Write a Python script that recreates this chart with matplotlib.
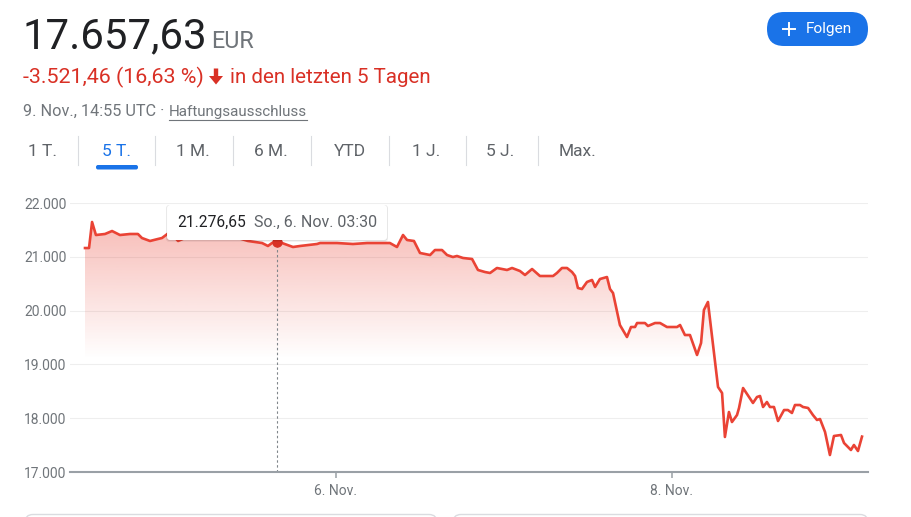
import numpy as np
import matplotlib
matplotlib.use("Agg")
import matplotlib.pyplot as plt
from matplotlib.patches import FancyBboxPatch, Polygon, PathPatch
from matplotlib.transforms import Affine2D, IdentityTransform
from matplotlib.lines import Line2D
from matplotlib.colors import to_rgb

# ---------------- data ----------------
# time in fractional days of November 2022
days = [4.506, 4.530, 4.548, 4.571, 4.625, 4.667, 4.714, 4.774, 4.821, 4.845,
        4.893, 4.940, 4.964, 5.012, 5.060, 5.131, 5.250, 5.369, 5.476, 5.560,
        5.595, 5.619, 5.649, 5.679, 5.744, 5.786, 5.887, 5.905, 6.006, 6.101,
        6.185, 6.321, 6.363, 6.399, 6.423, 6.464, 6.500, 6.560, 6.589, 6.631,
        6.661, 6.696, 6.720, 6.756, 6.810, 6.845, 6.887, 6.917, 6.958, 7.018,
        7.048, 7.095, 7.125, 7.167, 7.214, 7.292, 7.315, 7.345, 7.375, 7.405,
        7.423, 7.440, 7.464, 7.494, 7.524, 7.542, 7.571, 7.613, 7.631, 7.649,
        7.690, 7.732, 7.756, 7.780, 7.792, 7.839, 7.857, 7.899, 7.929, 7.970,
        8.030, 8.048, 8.077, 8.107, 8.149, 8.173, 8.190, 8.214, 8.274, 8.298,
        8.315, 8.339, 8.357, 8.387, 8.399, 8.423, 8.482, 8.506, 8.524, 8.542,
        8.565, 8.583, 8.607, 8.631, 8.667, 8.690, 8.714, 8.732, 8.762, 8.780,
        8.810, 8.839, 8.863, 8.881, 8.911, 8.940, 8.964, 9.006, 9.024, 9.065,
        9.083, 9.107, 9.131]
prices = [21163, 21163, 21647, 21405, 21424, 21479, 21405, 21424, 21424, 21349,
          21294, 21331, 21349, 21461, 21294, 21390, 21410, 21395, 21294, 21256,
          21201, 21256, 21276.65, 21256, 21182, 21201, 21238, 21256, 21256, 21238,
          21256, 21256, 21182, 21405, 21312, 21294, 21071, 21033, 21126, 21126,
          21033, 20996, 21015, 20978, 20959, 20755, 20717, 20699, 20792, 20755,
          20792, 20736, 20662, 20773, 20643, 20643, 20699, 20792, 20792, 20717,
          20643, 20420, 20401, 20532, 20569, 20439, 20587, 20624, 20401, 20327,
          19732, 19509, 19695, 19695, 19769, 19769, 19714, 19769, 19769, 19695,
          19695, 19732, 19546, 19546, 19175, 19398, 20011, 20160, 18580, 18468,
          17651, 18115, 17929, 18059, 18190, 18561, 18283, 18394, 18413, 18208,
          18301, 18208, 18208, 17948, 18152, 18152, 18097, 18245, 18245, 18208,
          18190, 18059, 17967, 17985, 17743, 17316, 17669, 17688, 17539, 17409,
          17502, 17390, 17657.63]

y_ticks = [17000, 18000, 19000, 20000, 21000, 22000]
y_tick_labels = ["17.000", "18.000", "19.000", "20.000", "21.000", "22.000"]
x_ticks = [6, 8]
x_tick_labels = ["6. Nov.", "8. Nov."]

hover_index = 22
hover_value_label = "21.276,65"
hover_date_label = "So., 6. Nov. 03:30"

price_label = "17.657,63"
currency_label = "EUR"
change_label = "-3.521,46 (16,63 %)"
period_label = "in den letzten 5 Tagen"
date_label = "9. Nov., 14:55 UTC ·"
disclaimer_label = "Haftungsausschluss"
tabs = ["1 T.", "5 T.", "1 M.", "6 M.", "YTD", "1 J.", "5 J.", "Max."]
active_tab = 1
button_label = "Folgen"

# ---------------- styling ----------------
RED = "#ea4335"
TXT_RED = "#d93025"
GRAY = "#70757a"
DARK = "#202124"
BLUE = "#1a73e8"

W, H = 911, 517
plt.rcParams["font.family"] = ["Roboto", "DejaVu Sans"]

fig = plt.figure(figsize=(W / 100, H / 100), dpi=100)
fig.patch.set_facecolor("white")
PT = Affine2D().scale(1, -1).translate(0, H)  # pixel coords, origin top-left
renderer = fig.canvas.get_renderer()


def fit(t, target):
    w = t.get_window_extent(renderer).width
    t.set_fontsize(t.get_fontsize() * target / w)


# ---------------- header ----------------
big = fig.text(22, 48, price_label, transform=PT, fontsize=30, color=DARK,
               ha="left", va="baseline")
fit(big, 184)
cur = fig.text(211, 48, currency_label, transform=PT, fontsize=15, color=GRAY,
               ha="left", va="baseline")
fit(cur, 43)

t1 = fig.text(23, 83, change_label, transform=PT, fontsize=14, color=TXT_RED,
              ha="left", va="baseline")
fit(t1, 182)
arrow = Polygon([(213.8, 68.5), (218.2, 68.5), (218.2, 76), (223, 76), (216, 84.5),
                 (209, 76), (213.8, 76)], closed=True, transform=PT,
                facecolor=TXT_RED, edgecolor="none")
fig.add_artist(arrow)
t3 = fig.text(230, 83, period_label, transform=PT, fontsize=14, color=TXT_RED,
              ha="left", va="baseline")
fit(t3, 202)

d1 = fig.text(23, 116, date_label, transform=PT, fontsize=11, color=GRAY,
              ha="left", va="baseline")
fit(d1, 141)
d2 = fig.text(169, 116, disclaimer_label, transform=PT, fontsize=11, color=GRAY,
              ha="left", va="baseline")
fit(d2, 138)
fig.add_artist(Line2D([169, 307], [119.5, 119.5], transform=PT, color=GRAY, lw=0.8))

# Folgen button
btn = FancyBboxPatch((767, 12), 101, 34, boxstyle="round,pad=0,rounding_size=17",
                     transform=PT, facecolor=BLUE, edgecolor="none")
fig.add_artist(btn)
fig.add_artist(Line2D([783, 795], [29, 29], transform=PT, color="white", lw=1.4))
fig.add_artist(Line2D([789, 789], [23, 35], transform=PT, color="white", lw=1.4))
bt = fig.text(806, 29, button_label, transform=PT, fontsize=11, color="white",
              ha="left", va="center")
fit(bt, 46)

# tabs
tab_centers = [43, 117, 193, 271, 350, 426, 500, 578]
for i, (lab, cx) in enumerate(zip(tabs, tab_centers)):
    fig.text(cx, 151, lab, transform=PT, fontsize=12.5,
             color=BLUE if i == active_tab else "#5f6368", ha="center", va="center")
for sx in [78, 155, 233, 311, 389, 466, 538]:
    fig.add_artist(Line2D([sx, sx], [136, 165], transform=PT, color="#dadce0", lw=0.8))
fig.add_artist(FancyBboxPatch((96, 165), 42, 4.5, boxstyle="round,pad=0,rounding_size=2",
                              transform=PT, facecolor=BLUE, edgecolor="none"))

# bottom cards (edges visible)
for x0, w in [(25, 412), (453, 415)]:
    fig.add_artist(FancyBboxPatch((x0, 514.5), w, 60, boxstyle="round,pad=0,rounding_size=8",
                                  transform=PT, facecolor="white", edgecolor="#dadce0", lw=1))

# ---------------- chart ----------------
ax = fig.add_axes([70 / W, 1 - 472 / H, (868 - 70) / W, (472 - 203) / H])
xmin, xmax = 4.4167, 9.1667
ymin, ymax = 17000, 22000

poly = ax.fill_between(days, prices, ymin, facecolor="none", edgecolor="none")
clip = PathPatch(poly.get_paths()[0], transform=ax.transData, facecolor="none",
                 edgecolor="none")
ax.add_patch(clip)
gy = np.linspace(ymin, ymax, 400)
alpha = np.clip((gy - 19100) / (21400 - 19100), 0, 1) * 0.32
img = np.zeros((400, 1, 4))
img[..., :3] = to_rgb(RED)
img[:, 0, 3] = alpha
im = ax.imshow(img, extent=[xmin, xmax, ymin, ymax], origin="lower", aspect="auto",
               interpolation="bilinear", zorder=1)
im.set_clip_path(clip)

ax.plot(days, prices, color=RED, lw=1.9, zorder=3, solid_joinstyle="round")

hx, hy = days[hover_index], prices[hover_index]
ax.vlines(hx, ymin, hy, colors="#80868b", linestyles=(0, (2.2, 2.2)), lw=0.8, zorder=2)
ax.plot([hx], [hy], "o", color="#d93025", ms=6.5, zorder=4)

ax.set_xlim(xmin, xmax)
ax.set_ylim(ymin, ymax)
ax.set_yticks(y_ticks)
ax.set_yticklabels(y_tick_labels)
ax.set_xticks(x_ticks)
ax.set_xticklabels(x_tick_labels)
ax.grid(axis="y", color="#eeeeee", lw=0.8, zorder=0)
ax.set_axisbelow(True)
for s in ["top", "right", "left"]:
    ax.spines[s].set_visible(False)
ax.spines["bottom"].set_color("#9aa0a6")
ax.spines["bottom"].set_linewidth(1.5)
ax.spines["bottom"].set_zorder(5)
ax.tick_params(axis="x", length=4.5, width=1.1, color="#9aa0a6", labelcolor=GRAY,
               labelsize=10, pad=4)
ax.tick_params(axis="y", length=0, pad=2.5, labelcolor=GRAY, labelsize=10)
ax.set_facecolor("white")

# tooltip
px, py = ax.transData.transform((hx, hy))
top = ax.transAxes.transform((0, 1))[1] - 2
bw, bh = 220, 35
for off, a in [(2.0, 0.05), (1.0, 0.08)]:
    fig.add_artist(FancyBboxPatch((px - bw / 2 - off * 0.5, top - bh - off), bw + off, bh + off,
                                  boxstyle="round,pad=0,rounding_size=3",
                                  transform=IdentityTransform(),
                                  facecolor=(0, 0, 0, a), edgecolor="none"))
fig.add_artist(FancyBboxPatch((px - bw / 2, top - bh), bw, bh,
                              boxstyle="round,pad=0,rounding_size=3",
                              transform=IdentityTransform(),
                              facecolor="white", edgecolor="none"))
tv = fig.text(px - bw / 2 + 10, top - bh / 2, hover_value_label,
              transform=IdentityTransform(), fontsize=11, color=DARK,
              ha="left", va="center")
fit(tv, 69)
wv = tv.get_window_extent(renderer).width
td = fig.text(px - bw / 2 + 10 + wv + 8, top - bh / 2, hover_date_label,
              transform=IdentityTransform(), fontsize=11, color="#5f6368",
              ha="left", va="center")
fit(td, 124)

fig.savefig("out.png", dpi=100, facecolor="white")
